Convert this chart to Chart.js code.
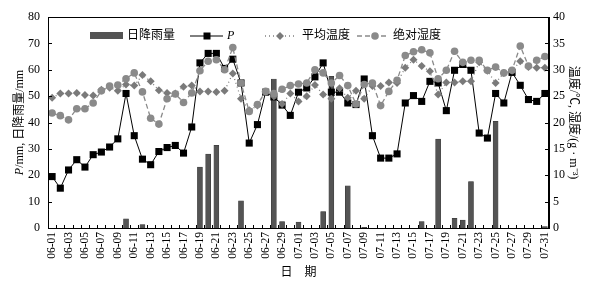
<!DOCTYPE html>
<html>
<head>
<meta charset="utf-8">
<script src="https://cdn.jsdelivr.net/npm/chart.js@4.4.0/dist/chart.umd.min.js"></script>
<style>
  html, body { margin: 0; padding: 0; background: #fff; }
</style>
</head>
<body>
<canvas id="c" width="609" height="286"></canvas>
<script>
const days = [
  "06-01","06-02","06-03","06-04","06-05","06-06","06-07","06-08","06-09","06-10",
  "06-11","06-12","06-13","06-14","06-15","06-16","06-17","06-18","06-19","06-20",
  "06-21","06-22","06-23","06-24","06-25","06-26","06-27","06-28","06-29","06-30",
  "07-01","07-02","07-03","07-04","07-05","07-06","07-07","07-08","07-09","07-10",
  "07-11","07-12","07-13","07-14","07-15","07-16","07-17","07-18","07-19","07-20",
  "07-21","07-22","07-23","07-24","07-25","07-26","07-27","07-28","07-29","07-30",
  "07-31"
];
// 日降雨量 (mm)
const rainfall = [
  0, 0, 0, 0, 0, 0, 0, 0, 0, 3.5,
  0, 1.3, 0, 0, 0, 0, 0, 0, 23.1, 28,
  31.3, 0, 0, 10.3, 0, 0, 0, 56.5, 2.4, 0,
  2.2, 0, 0, 6.2, 57.5, 0, 16, 0, 0.3, 0,
  0, 0, 0, 0, 0, 2.4, 0, 33.7, 0, 3.7,
  3, 17.6, 0, 0, 40.4, 0, 0, 0, 0, 0,
  0.5
];
// P (mm)
const pValues = [
  19.5, 15.1, 22, 25.9, 23.1, 27.8, 28.8, 30.7, 33.8, 51,
  35, 26.1, 24, 29, 30.5, 31.3, 28.4, 38.3, 62.6, 66.2,
  66.2, 60.5, 64, 55, 32.2, 39.2, 51.5, 49.7, 46.6, 42.7,
  51.5, 53.1, 57.3, 62.6, 51.5, 51.5, 47.4, 46.8, 56.5, 35,
  26.5, 26.5, 28.1, 47.4, 50.2, 48, 55.6, 55, 44.5, 59.8,
  62, 59.8, 36, 34.1, 51, 47.4, 59, 54.1, 48.7, 48,
  51
];
// 平均温度 (°C)
const avgTemp = [
  24.7, 25.5, 25.5, 25.6, 25.2, 25.1, 26.2, 26.6, 26, 27.2,
  27, 29, 27.8, 26.1, 25.6, 25.5, 26.8, 27, 25.9, 25.9,
  25.8, 26, 29.3, 24.5, 22.3, 23.2, 25.8, 25, 23.5, 25.5,
  24, 25, 27.1, 25.3, 24.5, 26.5, 24.7, 26, 24.5, 26.9,
  26.9, 27.6, 27.5, 30.4, 31.9, 30.7, 29.7, 25.3, 27.6, 27.6,
  27.8, 27.8, 31.4, 29.8, 27.5, 29.4, 29.8, 31.6, 30.5, 30.4,
  30.4
];
// 绝对湿度 (g·m⁻³)
const absHumidity = [
  21.8, 21.3, 20.5, 22.6, 22.6, 23.7, 26, 26.9, 27.1, 28.3,
  29.4, 25.8, 20.8, 19.7, 24.5, 25.4, 23.8, 25.6, 29.8, 31.6,
  31.9, 30, 34.2, 27.5, 22.1, 23.4, 25.9, 25.5, 26.3, 27,
  27.3, 27.5, 30, 29.4, 27.5, 28.9, 27, 23.5, 27.2, 27.5,
  23.2, 25.9, 28, 32.7, 33.4, 33.8, 33.2, 28.3, 29.9, 33.5,
  31.4, 31.8, 31.8, 29.9, 30.5, 29.4, 29.9, 34.5, 30.7, 31.8,
  32.5
];
const leftTicks = [0, 10, 20, 30, 40, 50, 60, 70, 80];
const rightTicks = [0, 5, 10, 15, 20, 25, 30, 35, 40];

const SERIF = '"Liberation Serif", "Noto Sans CJK SC", serif';
const BAR_COLOR = "#545454";

// frame, inward tick marks, inline legend, left title with italic P
const decorations = {
  id: "decorations",
  afterDraw(chart) {
    const ctx = chart.ctx;
    const a = chart.chartArea;
    const x = chart.scales.x, y = chart.scales.y, y1 = chart.scales.y1;
    ctx.save();
    ctx.strokeStyle = "#000";
    ctx.lineWidth = 1;
    ctx.strokeRect(a.left + 0.5, a.top + 0.5, a.right - a.left - 1, a.bottom - a.top);

    ctx.beginPath();
    const step = (a.right - a.left) / days.length;
    for (let i = 0; i <= days.length; i++) {
      const px = Math.round(a.left + i * step) + 0.5;
      ctx.moveTo(px, a.bottom);
      ctx.lineTo(px, a.bottom - 3);
    }
    leftTicks.forEach(v => {
      const py = Math.round(y.getPixelForValue(v)) + 0.5;
      ctx.moveTo(a.left, py);
      ctx.lineTo(a.left + 4, py);
    });
    rightTicks.forEach(v => {
      const py = Math.round(y1.getPixelForValue(v)) + 0.5;
      ctx.moveTo(a.right, py);
      ctx.lineTo(a.right - 4, py);
    });
    ctx.stroke();

    // legend
    const ly = 36;
    ctx.font = "12px " + SERIF;
    ctx.textBaseline = "middle";
    ctx.fillStyle = BAR_COLOR;
    ctx.fillRect(90, ly - 4, 33, 7);
    ctx.fillStyle = "#000";
    ctx.fillText("日降雨量", 127, ly);

    ctx.beginPath();
    ctx.moveTo(190, ly); ctx.lineTo(223, ly);
    ctx.strokeStyle = "#000"; ctx.lineWidth = 1; ctx.stroke();
    ctx.fillRect(207 - 3.5, ly - 3.5, 7, 7);
    ctx.font = "italic 12px " + SERIF;
    ctx.fillText("P", 227, ly);

    ctx.beginPath();
    ctx.setLineDash([1, 3]);
    ctx.strokeStyle = "#808080"; ctx.lineWidth = 1.3;
    ctx.moveTo(265, ly); ctx.lineTo(296, ly); ctx.stroke();
    ctx.setLineDash([]);
    ctx.beginPath();
    ctx.fillStyle = "#7a7a7a";
    ctx.moveTo(280, ly - 4); ctx.lineTo(284, ly); ctx.lineTo(280, ly + 4); ctx.lineTo(276, ly);
    ctx.closePath(); ctx.fill();
    ctx.fillStyle = "#000";
    ctx.font = "12px " + SERIF;
    ctx.fillText("平均温度", 302, ly);

    ctx.beginPath();
    ctx.setLineDash([5, 3]);
    ctx.strokeStyle = "#8a8a8a"; ctx.lineWidth = 1.3;
    ctx.moveTo(357, ly); ctx.lineTo(389, ly); ctx.stroke();
    ctx.setLineDash([]);
    ctx.beginPath();
    ctx.fillStyle = "#8a8a8a";
    ctx.arc(375, ly, 3.8, 0, Math.PI * 2); ctx.fill();
    ctx.fillStyle = "#000";
    ctx.fillText("绝对湿度", 393, ly);

    // left axis title
    ctx.translate(20, (a.top + a.bottom) / 2);
    ctx.rotate(-Math.PI / 2);
    const italic = "italic 12px " + SERIF, plain = "12px " + SERIF;
    ctx.font = italic; const w1 = ctx.measureText("P").width;
    ctx.font = plain; const rest = "/mm, 日降雨量/mm"; const w2 = ctx.measureText(rest).width;
    const start = -(w1 + w2) / 2;
    ctx.textAlign = "left";
    ctx.font = italic; ctx.fillText("P", start, 0);
    ctx.font = plain; ctx.fillText(rest, start + w1, 0);
    ctx.restore();
  }
};

new Chart(document.getElementById("c"), {
  data: {
    labels: days,
    datasets: [
      {
        type: "line",
        label: "绝对湿度",
        data: absHumidity,
        yAxisID: "y1",
        borderColor: "#8a8a8a",
        borderWidth: 1.3,
        borderDash: [5, 3],
        pointStyle: "circle",
        pointRadius: 3.8,
        pointBackgroundColor: "#8a8a8a",
        pointBorderColor: "#8a8a8a",
        pointBorderWidth: 0,
        tension: 0,
        order: 1,
      },
      {
        type: "line",
        label: "平均温度",
        data: avgTemp,
        yAxisID: "y1",
        borderColor: "#808080",
        borderWidth: 1.3,
        borderDash: [1, 3],
        pointStyle: "rectRot",
        pointRadius: 4,
        pointBackgroundColor: "#7a7a7a",
        pointBorderColor: "#7a7a7a",
        pointBorderWidth: 0,
        tension: 0,
        order: 2,
      },
      {
        type: "line",
        label: "P",
        data: pValues,
        yAxisID: "y",
        borderColor: "#000",
        borderWidth: 1,
        pointStyle: "rect",
        pointRadius: 5,
        pointBackgroundColor: "#000",
        pointBorderColor: "#000",
        pointBorderWidth: 0,
        tension: 0,
        order: 3,
      },
      {
        type: "bar",
        label: "日降雨量",
        data: rainfall,
        yAxisID: "y",
        backgroundColor: BAR_COLOR,
        borderColor: "#333",
        borderWidth: 0.5,
        barThickness: 5,
        order: 4,
      },
    ],
  },
  options: {
    responsive: false,
    animation: false,
    layout: { padding: { top: 17, left: 0, right: 0, bottom: 0 } },
    plugins: {
      legend: { display: false },
      tooltip: { enabled: false },
    },
    scales: {
      x: {
        type: "category",
        offset: true,
        grid: { display: false, drawTicks: false },
        border: { display: true, color: "#000" },
        ticks: {
          autoSkip: false,
          minRotation: 90,
          maxRotation: 90,
          padding: 4,
          color: "#000",
          font: { family: SERIF, size: 11.5 },
          callback: (v, i) => (i % 2 === 0 ? days[i] : ""),
        },
        title: {
          display: true,
          text: "日　期",
          color: "#000",
          font: { family: SERIF, size: 12 },
          padding: { top: 0, bottom: 6 },
        },
        afterFit: s => { s.height = 58; },
      },
      y: {
        position: "left",
        min: 0,
        max: 80,
        grid: { display: false, drawTicks: false },
        border: { display: true, color: "#000" },
        afterBuildTicks: s => { s.ticks = leftTicks.map(v => ({ value: v })); },
        ticks: {
          padding: 8,
          color: "#000",
          font: { family: SERIF, size: 12 },
        },
        afterFit: s => { s.width = 48; },
      },
      y1: {
        position: "right",
        min: 0,
        max: 40,
        grid: { display: false, drawTicks: false },
        border: { display: true, color: "#000" },
        afterBuildTicks: s => { s.ticks = rightTicks.map(v => ({ value: v })); },
        ticks: {
          padding: 4,
          color: "#000",
          font: { family: SERIF, size: 12 },
        },
        title: {
          display: true,
          text: "温度/℃, 湿度/(g · m⁻³)",
          color: "#000",
          font: { family: SERIF, size: 12 },
          padding: { top: 29, bottom: 0 },
        },
        afterFit: s => { s.width = 60; },
      },
    },
  },
  plugins: [decorations],
});
</script>
</body>
</html>
